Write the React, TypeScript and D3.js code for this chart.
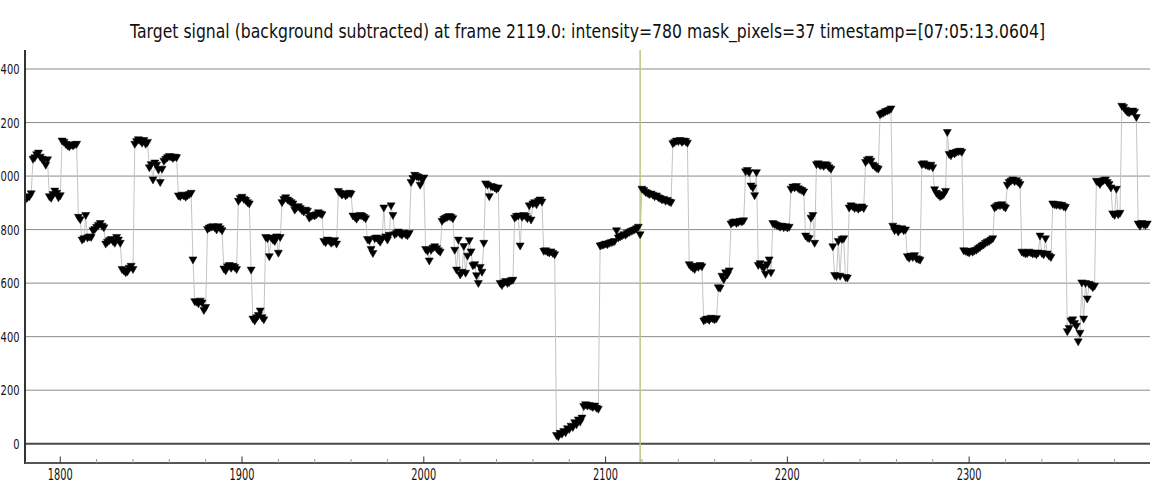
import React from 'react';
import * as d3 from 'd3';

const TITLE =
  'Target signal (background subtracted) at frame 2119.0: intensity=780 mask_pixels=37 timestamp=[07:05:13.0604]';
const currentFrame = 2119;
const xTicks = [1800, 1900, 2000, 2100, 2200, 2300];
const xMinorTicks = [
  1820, 1840, 1860, 1880, 1920, 1940, 1960, 1980, 2020, 2040, 2060, 2080, 2120, 2140, 2160, 2180,
  2220, 2240, 2260, 2280, 2320, 2340, 2360, 2380,
];
const yTicks = [0, 200, 400, 600, 800, 1000, 1200, 1400];

// [first frame, intensity values for consecutive frames]
const runs: [number, number[]][] = [
  [1781, [912, 918, 922, 933]],
  [1785, [1062, 1068, 1079, 1085, 1070, 1062, 1058, 1040, 1060]],
  [1794, [922, 916, 930, 943, 935, 918, 926]],
  [1801, [1130, 1126, 1118, 1112, 1108, 1115, 1112, 1116, 1118]],
  [1810, [845, 836, 760, 765, 852, 768, 772, 770]],
  [1818, [795, 800, 808, 815, 822, 812, 806]],
  [1825, [745, 752, 758, 762, 755, 748, 770, 760, 748]],
  [1834, [650, 645, 638, 642, 655, 662, 650]],
  [1841, [1118, 1128, 1135, 1130, 1122, 1132, 1118, 1125]],
  [1849, [1030, 1042, 985, 1048, 1040, 1022, 975, 1025]],
  [1857, [1055, 1062, 1068, 1072, 1070, 1065, 1070, 1068]],
  [1865, [925, 922, 928, 925, 920, 926, 930, 935]],
  [1873, [686, 530, 528, 522, 532, 525, 497, 508]],
  [1881, [800, 805, 808, 810, 806, 798, 810, 802, 795]],
  [1890, [652, 645, 660, 665, 655, 662, 658, 650]],
  [1898, [905, 915, 920, 912, 908, 900, 895, 648]],
  [1906, [465, 458, 470, 478, 495, 470, 462]],
  [1913, [770, 765, 698, 768, 760, 755, 772, 711, 770]],
  [1922, [900, 912, 918, 910, 905, 900, 895]],
  [1929, [872, 880, 885, 878, 870, 865, 872, 868]],
  [1937, [842, 848, 852, 850, 855, 862, 858, 855]],
  [1945, [755, 750, 760, 756, 748, 752, 758, 745]],
  [1953, [942, 935, 928, 932, 925, 930, 935, 932]],
  [1961, [850, 845, 838, 848, 852, 850, 845, 840]],
  [1969, [762, 758, 725, 710, 765, 768, 760, 752, 765]],
  [1978, [880, 772, 760, 778, 888, 852, 780]],
  [1985, [785, 790, 782, 778, 786, 780, 776, 785]],
  [1993, [975, 990, 1002, 998, 995, 965, 985, 992]],
  [2001, [725, 718, 682, 722, 730, 735, 728, 720, 715]],
  [2010, [830, 838, 842, 845, 848, 845, 840]],
  [2017, [722, 648, 760, 630, 640, 736, 636, 700, 758, 716, 664, 668, 627, 598, 658, 640, 748]],
  [2034, [970, 965, 922, 960, 958, 955, 950, 955]],
  [2042, [598, 590, 600, 605, 598, 602, 608, 610]],
  [2050, [842, 848, 850, 738, 845, 852, 848, 840]],
  [2058, [888, 835, 895, 900, 892, 905, 910, 902]],
  [2066, [718, 720, 715, 712, 716, 710, 705]],
  [2073, [30, 25, 38, 35, 45, 40, 55, 52, 65, 60, 78, 70, 88, 80, 95, 138, 145, 140, 142, 138, 135, 140, 132, 128]],
  [2097, [738, 740, 742, 745, 743, 748, 750, 752, 755]],
  [2106, [795, 768, 772, 775, 780, 778, 785, 788, 792, 795, 798, 802, 808, 780]],
  [2120, [950, 945, 938, 935, 930, 932, 928, 922, 925, 918, 915, 910, 912, 905, 908, 902, 900]],
  [2137, [1120, 1125, 1130, 1128, 1132, 1125, 1130, 1128, 1122]],
  [2146, [668, 660, 655, 650, 662, 658, 665, 660]],
  [2154, [458, 462, 465, 460, 468, 465, 462, 466]],
  [2162, [582, 580, 625, 612, 638, 630, 645]],
  [2169, [820, 825, 828, 822, 826, 830, 828, 832]],
  [2177, [1015, 1020, 1012, 962, 955, 926, 1012]],
  [2184, [665, 672, 660, 655, 632, 668, 686, 638]],
  [2192, [822, 818, 815, 812, 808, 812, 806, 810, 805, 808]],
  [2202, [950, 958, 955, 960, 952, 948, 945, 940]],
  [2210, [775, 768, 765, 842, 852, 748]],
  [2216, [1042, 1045, 1038, 1040, 1035, 1042, 1038, 1030, 1025]],
  [2225, [735, 628, 624, 755, 625, 762, 765, 620, 618]],
  [2234, [880, 888, 885, 878, 882, 875, 880, 884, 878]],
  [2243, [1050, 1058, 1062, 1055, 1040, 1035, 1028, 1025]],
  [2251, [1228, 1232, 1235, 1240, 1242, 1245, 1250]],
  [2258, [812, 795, 805, 790, 800, 802, 795, 798]],
  [2266, [698, 692, 700, 695, 702, 690, 688, 685]],
  [2274, [1042, 1045, 1040, 1038, 1035, 1040, 1030]],
  [2281, [948, 935, 928, 922, 925, 930, 942]],
  [2288, [1162, 1080, 1075, 1085, 1082, 1088, 1090, 1092, 1088]],
  [2297, [720, 718, 715, 712, 718]],
  [2302, [715, 720, 722, 728, 732, 738, 742, 748, 752, 755, 760, 765]],
  [2314, [880, 885, 890, 888, 892, 885, 880]],
  [2321, [965, 975, 980, 985, 978, 982, 975, 968]],
  [2329, [715, 712, 708, 710, 715, 712, 708, 710, 705, 712, 775, 710, 705, 765, 708, 700, 695]],
  [2346, [895, 892, 890, 892, 888, 890, 885, 882]],
  [2354, [418, 430, 458, 462, 448, 438, 380, 412]],
  [2362, [600, 465, 598, 540, 595, 590, 582, 588]],
  [2370, [980, 975, 968, 978, 982, 985, 975, 968, 955]],
  [2379, [858, 852, 950, 855, 860]],
  [2384, [1260, 1255, 1245, 1238, 1235, 1240, 1242, 1238, 1218]],
  [2393, [820, 812, 822, 818, 815, 820]],
];

const W = 1152;
const H = 494;
const L = 25;
const R = 1150;
const T = 50;
const B = 463;
const FONT = "'DejaVu Sans', Verdana, sans-serif";

export default function App() {
  const points = runs.flatMap(([s, vals]) => vals.map((v, i) => ({ frame: s + i, value: v })));
  const x = d3.scaleLinear().domain([1780.6, 2399.5]).range([L, R]);
  const y = d3.scaleLinear().domain([-72, 1471]).range([B, T]);
  const line = d3
    .line<{ frame: number; value: number }>()
    .x((d) => x(d.frame))
    .y((d) => y(d.value));
  const tri = 'M-4,-3.2L4,-3.2L0,3.8Z';

  return (
    <svg
      width={W}
      height={H}
      style={{ position: 'absolute', left: 0, top: 0, background: '#fff' }}
      fontFamily={FONT}
    >
      <rect x={0} y={0} width={W} height={H} fill="#fff" />
      <text x={587.5} y={38} fontSize={19} textAnchor="middle" fill="#111" textLength={915} lengthAdjust="spacingAndGlyphs">
        {TITLE}
      </text>
      {/* grid */}
      {yTicks
        .filter((t) => t !== 0)
        .map((t) => (
          <line key={'g' + t} x1={L} x2={R} y1={y(t)} y2={y(t)} stroke="#8a8a8a" strokeWidth={1} />
        ))}
      <line x1={L} x2={R} y1={y(0)} y2={y(0)} stroke="#4a4a4a" strokeWidth={2} />
      {/* y labels */}
      {yTicks.map((t) => {
        const s = String(t);
        return (
          <text
            key={'yl' + t}
            x={19.5}
            y={y(t) + 5}
            fontSize={14}
            textAnchor="end"
            fill="#111"
            textLength={6.3 * s.length}
            lengthAdjust="spacingAndGlyphs"
          >
            {s}
          </text>
        );
      })}
      {/* data */}
      <defs>
        <clipPath id="plot">
          <rect x={L} y={T} width={R - L + 2} height={B - T} />
        </clipPath>
      </defs>
      <g clipPath="url(#plot)">
        <path d={line(points) || ''} fill="none" stroke="#c4c4c4" strokeWidth={1} />
        <line
          x1={x(currentFrame)}
          x2={x(currentFrame)}
          y1={T}
          y2={B}
          stroke="#c2c47a"
          strokeWidth={1.5}
        />
        {points.map((p, i) => (
          <path
            key={i}
            d={tri}
            transform={`translate(${x(p.frame)},${y(p.value)})`}
            fill="#000"
            stroke="#000"
            strokeWidth={0.5}
          />
        ))}
      </g>
      {/* axes */}
      <line x1={L} x2={L} y1={T} y2={B + 1} stroke="#333" strokeWidth={2} />
      <line x1={L} x2={R} y1={B} y2={B} stroke="#555" strokeWidth={2} />
      {xMinorTicks.map((t) => (
        <line key={'mt' + t} x1={x(t)} x2={x(t)} y1={B} y2={B - 4} stroke="#999" strokeWidth={1} />
      ))}
      {xTicks.map((t) => (
        <g key={'xt' + t}>
          <line x1={x(t)} x2={x(t)} y1={B} y2={B - 6.5} stroke="#333" strokeWidth={1} />
          <text
            x={x(t)}
            y={479.5}
            fontSize={15}
            textAnchor="middle"
            fill="#111"
            textLength={25}
            lengthAdjust="spacingAndGlyphs"
          >
            {t}
          </text>
        </g>
      ))}
    </svg>
  );
}
